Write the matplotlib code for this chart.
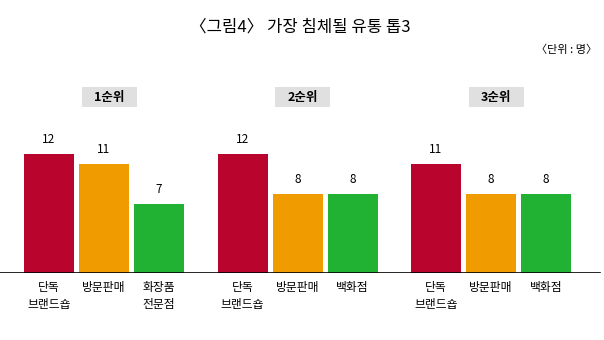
import numpy as np
import matplotlib.pyplot as plt
from matplotlib.patches import Rectangle

plt.rcParams['font.family'] = ['Noto Sans CJK KR', 'DejaVu Sans']

groups = ['1순위', '2순위', '3순위']
labels = [['단독\n브랜드숍', '방문판매', '화장품\n전문점'],
          ['단독\n브랜드숍', '방문판매', '백화점'],
          ['단독\n브랜드숍', '방문판매', '백화점']]
values = [[12, 11, 7],
          [12, 8, 8],
          [11, 8, 8]]
colors = ['#B9052E', '#F09C00', '#22B233']

fig = plt.figure(figsize=(6.04, 3.4), dpi=100)
# axes: x in pixel units, y in value units; baseline at y=273px
ax = fig.add_axes([0, 67 / 340, 1, 213 / 340])
px = 9.9  # pixels per unit
ax.set_xlim(0, 604)
ax.set_ylim(0, 213 / px)
ax.axis('off')

for g in range(3):
    x0 = 49 + 193.5 * g
    xs = x0 + 55 * np.arange(3)
    ax.bar(xs, values[g], width=50, color=colors, zorder=2)
    for x, v, lab in zip(xs, values[g], labels[g]):
        ax.text(x, v + 8 / px, str(v), ha='center', va='bottom', fontsize=8.5)
        ax.text(x, -8 / px, lab, ha='center', va='top', fontsize=8.5,
                linespacing=1.4)
    # group label box
    cx = xs[1] + 5
    ax.add_patch(Rectangle((cx - 27.5, (273 - 107) / px), 55, 20 / px,
                           color='#E0E0E0', lw=0, zorder=1))
    ax.text(cx, (273 - 97) / px, groups[g], ha='center', va='center',
            fontsize=9, fontweight='bold')

ax.axhline(0, xmin=0, xmax=600 / 604, color='black', lw=1.2, zorder=3)

fig.text(300 / 604, 1 - 27 / 340, '〈그림4〉 가장 침체될 유통 톱3', ha='center',
         va='center', fontsize=12)
fig.text(597 / 604, 1 - 50 / 340, '〈단위 : 명〉', ha='right', va='center',
         fontsize=8)

fig.savefig('out.png', dpi=100)
